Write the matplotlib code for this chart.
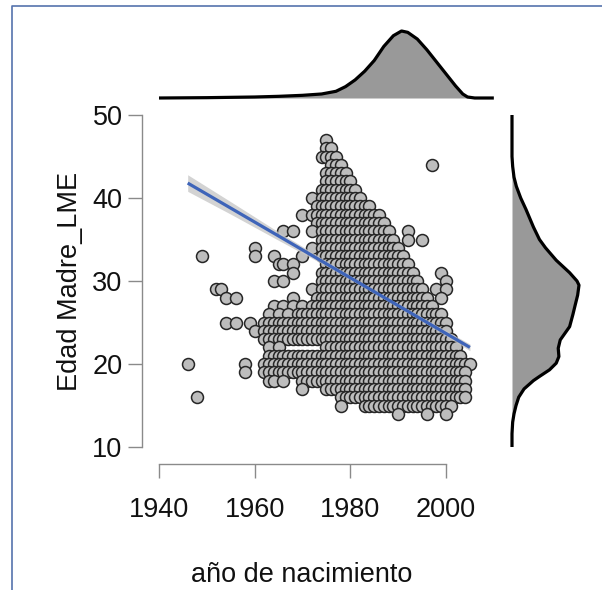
import matplotlib
matplotlib.use('Agg')
import matplotlib.pyplot as plt
from matplotlib.lines import Line2D

plt.rcParams['font.family'] = ['Liberation Sans', 'DejaVu Sans']

# ---------------- data ----------------
ages = [47, 46, 45, 44, 43, 42, 41, 40, 39, 38, 37, 36, 35, 34, 33, 32, 31, 30,
        29, 28, 27, 26, 25, 24, 23, 22, 21, 20, 19, 18, 17, 16, 15, 14]

yrs_47 = [1975]
yrs_46 = [1975, 1976]
yrs_45 = [1974, 1975, 1976, 1977]
yrs_44 = [1976, 1977, 1978, 1997]
yrs_43 = [1975, 1976, 1977, 1978, 1979]
yrs_42 = [1975, 1976, 1977, 1978, 1979, 1980]
yrs_41 = [1974, 1975, 1976, 1977, 1978, 1979, 1980, 1981]
yrs_40 = [1972, 1974, 1975, 1976, 1977, 1978, 1979, 1980, 1981, 1982]
yrs_39 = [1973, 1974, 1975, 1976, 1977, 1978, 1979, 1980, 1981, 1982, 1983, 1984]
yrs_38 = [1970, 1972, 1973, 1974, 1975, 1976, 1977, 1978, 1979, 1980, 1981, 1982,
          1983, 1984, 1985, 1986]
yrs_37 = [1973, 1974, 1975, 1976, 1977, 1978, 1979, 1980, 1981, 1982, 1983, 1984,
          1985, 1986, 1987]
yrs_36 = [1966, 1968, 1972, 1974, 1975, 1976, 1977, 1978, 1979, 1980, 1981, 1982,
          1983, 1984, 1985, 1986, 1987, 1988, 1992]
yrs_35 = [1974, 1975, 1976, 1977, 1978, 1979, 1980, 1981, 1982, 1983, 1984, 1985,
          1986, 1987, 1988, 1989, 1992, 1995]
yrs_34 = [1960, 1972, 1974, 1975, 1976, 1977, 1978, 1979, 1980, 1981, 1982, 1983,
          1984, 1985, 1986, 1987, 1988, 1989, 1990]
yrs_33 = [1949, 1960, 1964, 1970, 1974, 1975, 1976, 1977, 1978, 1979, 1980, 1981,
          1982, 1983, 1984, 1985, 1986, 1987, 1988, 1989, 1990, 1991]
yrs_32 = [1965, 1966, 1968, 1975, 1976, 1977, 1978, 1979, 1980, 1981, 1982, 1983,
          1984, 1985, 1986, 1987, 1988, 1989, 1990, 1991, 1992]
yrs_31 = [1968, 1974, 1975, 1976, 1977, 1978, 1979, 1980, 1981, 1982, 1983, 1984,
          1985, 1986, 1987, 1988, 1989, 1990, 1991, 1992, 1993, 1999]
yrs_30 = [1964, 1966, 1974, 1975, 1976, 1977, 1978, 1979, 1980, 1981, 1982, 1983,
          1984, 1985, 1986, 1987, 1988, 1989, 1990, 1991, 1992, 1993, 1994, 2000]
yrs_29 = [1952, 1953, 1972, 1974, 1975, 1976, 1977, 1978, 1979, 1980, 1981, 1982,
          1983, 1984, 1985, 1986, 1987, 1988, 1989, 1990, 1991, 1992, 1993, 1994,
          1995, 1998, 2000]
yrs_28 = [1954, 1956, 1968, 1973, 1974, 1975, 1976, 1977, 1978, 1979, 1980, 1981,
          1982, 1983, 1984, 1985, 1986, 1987, 1988, 1989, 1990, 1991, 1992, 1993,
          1994, 1995, 1996, 1999]
yrs_27 = [1964, 1966, 1968, 1970, 1972, 1973, 1974, 1975, 1976, 1977, 1978, 1979,
          1980, 1981, 1982, 1983, 1984, 1985, 1986, 1987, 1988, 1989, 1990, 1991,
          1992, 1993, 1994, 1995, 1996, 1997]
yrs_26 = [1963, 1965, 1967, 1969, 1970, 1971, 1972, 1973, 1974, 1975, 1976, 1977,
          1978, 1979, 1980, 1981, 1982, 1983, 1984, 1985, 1986, 1987, 1988, 1989,
          1990, 1991, 1992, 1993, 1994, 1995, 1996, 1997, 1998, 1999]
yrs_25 = [1954, 1956, 1959, 1962, 1963, 1964, 1965, 1966, 1967, 1968, 1969, 1970,
          1971, 1972, 1973, 1974, 1975, 1976, 1977, 1978, 1979, 1980, 1981, 1982,
          1983, 1984, 1985, 1986, 1987, 1988, 1989, 1990, 1991, 1992, 1993, 1994,
          1995, 1996, 1997, 1998, 1999, 2000]
yrs_24 = [1960, 1962, 1963, 1964, 1965, 1966, 1967, 1968, 1969, 1970, 1971, 1972,
          1973, 1974, 1975, 1976, 1977, 1978, 1979, 1980, 1981, 1982, 1983, 1984,
          1985, 1986, 1987, 1988, 1989, 1990, 1991, 1992, 1993, 1994, 1995, 1996,
          1997, 1998, 1999, 2000]
yrs_23 = [1962, 1963, 1964, 1965, 1966, 1967, 1968, 1969, 1970, 1971, 1972, 1973,
          1974, 1975, 1976, 1977, 1978, 1979, 1980, 1981, 1982, 1983, 1984, 1985,
          1986, 1987, 1988, 1989, 1990, 1991, 1992, 1993, 1994, 1995, 1996, 1997,
          1998, 1999, 2000, 2001]
yrs_22 = [1963, 1965, 1975, 1976, 1977, 1978, 1979, 1980, 1981, 1982, 1983, 1984,
          1985, 1986, 1987, 1988, 1989, 1990, 1991, 1992, 1993, 1994, 1995, 1996,
          1997, 1998, 1999, 2000, 2001, 2002]
yrs_21 = [1963, 1964, 1965, 1966, 1967, 1968, 1969, 1970, 1971, 1972, 1973, 1974,
          1975, 1976, 1977, 1978, 1979, 1980, 1981, 1982, 1983, 1984, 1985, 1986,
          1987, 1988, 1989, 1990, 1991, 1992, 1993, 1994, 1995, 1996, 1997, 1998,
          1999, 2000, 2001, 2002, 2003]
yrs_20 = [1946, 1958, 1962, 1963, 1964, 1965, 1966, 1967, 1968, 1969, 1970, 1971,
          1972, 1973, 1974, 1975, 1976, 1977, 1978, 1979, 1980, 1981, 1982, 1983,
          1984, 1985, 1986, 1987, 1988, 1989, 1990, 1991, 1992, 1993, 1994, 1995,
          1996, 1997, 1998, 1999, 2000, 2001, 2002, 2003, 2004, 2005]
yrs_19 = [1958, 1962, 1963, 1964, 1965, 1966, 1967, 1968, 1969, 1970, 1971, 1972,
          1973, 1974, 1975, 1976, 1977, 1978, 1979, 1980, 1981, 1982, 1983, 1984,
          1985, 1986, 1987, 1988, 1989, 1990, 1991, 1992, 1993, 1994, 1995, 1996,
          1997, 1998, 1999, 2000, 2001, 2002, 2003, 2004]
yrs_18 = [1963, 1964, 1966, 1970, 1971, 1972, 1973, 1974, 1975, 1976, 1977, 1978,
          1979, 1980, 1981, 1982, 1983, 1984, 1985, 1986, 1987, 1988, 1989, 1990,
          1991, 1992, 1993, 1994, 1995, 1996, 1997, 1998, 1999, 2000, 2001, 2002,
          2003, 2004]
yrs_17 = [1970, 1975, 1976, 1977, 1978, 1979, 1980, 1981, 1982, 1983, 1984, 1985,
          1986, 1987, 1988, 1989, 1990, 1991, 1992, 1993, 1994, 1995, 1996, 1997,
          1998, 1999, 2000, 2001, 2002, 2003, 2004]
yrs_16 = [1948, 1978, 1979, 1980, 1981, 1982, 1983, 1984, 1985, 1986, 1987, 1988,
          1989, 1990, 1991, 1992, 1993, 1994, 1995, 1996, 1997, 1998, 1999, 2000,
          2001, 2002, 2003, 2004]
yrs_15 = [1978, 1983, 1984, 1985, 1986, 1987, 1988, 1989, 1990, 1991, 1992, 1993,
          1994, 1995, 1996, 1997, 1998, 1999, 2000, 2001]
yrs_14 = [1990, 1996, 2000]

year_rows = [yrs_47, yrs_46, yrs_45, yrs_44, yrs_43, yrs_42, yrs_41, yrs_40, yrs_39,
             yrs_38, yrs_37, yrs_36, yrs_35, yrs_34, yrs_33, yrs_32, yrs_31, yrs_30,
             yrs_29, yrs_28, yrs_27, yrs_26, yrs_25, yrs_24, yrs_23, yrs_22, yrs_21,
             yrs_20, yrs_19, yrs_18, yrs_17, yrs_16, yrs_15, yrs_14]

# regression line and its confidence band
fit_years = [1946, 2005]
fit_ages = [41.8, 22.0]
ci_years = [1946, 1955, 1965, 1975, 1985, 1995, 2005]
ci_center = [41.8, 38.8, 35.4, 32.1, 28.7, 25.4, 22.0]
ci_half = [1.0, 0.75, 0.5, 0.3, 0.2, 0.25, 0.4]

# marginal density of birth year (relative height)
dens_year_x = [1940, 1950, 1960, 1965, 1970, 1974, 1977, 1979, 1981, 1983, 1985,
               1987, 1989, 1990.7, 1992, 1994, 1996, 1998, 2000, 2002, 2003.5,
               2004.5, 2006, 2010]
dens_year_h = [0.0, 0.005, 0.015, 0.025, 0.04, 0.06, 0.1, 0.17, 0.27, 0.4, 0.56,
               0.77, 0.93, 1.0, 0.98, 0.88, 0.72, 0.54, 0.36, 0.18, 0.06, 0.015,
               0.0, 0.0]

# marginal density of mother's age (relative height)
dens_age_y = [10, 11.6, 13, 14, 15, 16, 17, 18, 18.5, 19.3, 20.1, 20.9, 21.9, 22.9,
              23.7, 24.5, 26, 27, 28.3, 29.5, 30, 31, 32.5, 34, 35, 36.5, 38.6, 40,
              41.4, 42.5, 43.8, 45, 50]
dens_age_h = [0.0, 0.0, 0.01, 0.03, 0.06, 0.1, 0.18, 0.32, 0.41, 0.56, 0.66, 0.70,
              0.69, 0.72, 0.79, 0.86, 0.91, 0.94, 0.98, 1.0, 0.97, 0.86, 0.66, 0.5,
              0.41, 0.32, 0.21, 0.13, 0.065, 0.03, 0.01, 0.0, 0.0]

x_ticks = [1940, 1960, 1980, 2000]
y_ticks = [10, 20, 30, 40, 50]

# ---------------- figure ----------------
W, H = 602, 590
fig = plt.figure(figsize=(W / 100, H / 100), dpi=100)


def px_axes(x0, y0, x1, y1):
    return fig.add_axes([x0 / W, 1 - y1 / H, (x1 - x0) / W, (y1 - y0) / H])


PX_PER_YEAR = (446 - 159) / 60.0
PX_PER_AGE = (447 - 115) / 40.0


def year_at(px):
    return 1940 + (px - 159) / PX_PER_YEAR


def age_at(py):
    return 50 - (py - 115) / PX_PER_AGE


SX0, SX1, SY0, SY1 = 142, 500, 108, 464
ax = px_axes(SX0, SY0, SX1, SY1)
ax.set_xlim(year_at(SX0), year_at(SX1))
ax.set_ylim(age_at(SY1), age_at(SY0))

xs, ys = [], []
for a, row in zip(ages, year_rows):
    xs.extend(row)
    ys.extend([a] * len(row))

ax.scatter(xs, ys, s=74, c='#bdbdbd', edgecolors='#262626', linewidths=1.1,
           zorder=2)

lo = [c - h for c, h in zip(ci_center, ci_half)]
hi = [c + h for c, h in zip(ci_center, ci_half)]
ax.fill_between(ci_years, lo, hi, color='#c8c8c8', alpha=0.8, lw=0, zorder=3)
ax.plot(fit_years, fit_ages, color='#3E64B9', lw=2.3, solid_capstyle='butt',
        zorder=4)

for s in ['top', 'right']:
    ax.spines[s].set_visible(False)
spine_col = '#8a8a8a'
ax.spines['left'].set_bounds(10, 50)
ax.spines['bottom'].set_bounds(1940, 2000)
for s in ['left', 'bottom']:
    ax.spines[s].set_color(spine_col)
    ax.spines[s].set_linewidth(1.0)
ax.set_xticks(x_ticks)
ax.set_yticks(y_ticks)
ax.tick_params(axis='both', colors=spine_col, length=10, width=1.0,
               labelsize=19.5, labelcolor='#111111')
ax.tick_params(axis='x', pad=14)
ax.tick_params(axis='y', pad=4)

fig.text(70 / W, 1 - 281 / H, 'Edad Madre_LME', rotation=90, ha='center',
         va='center', fontsize=19.5, color='#111111')
fig.text(302 / W, 1 - 575 / H, 'año de nacimiento', ha='center', va='center',
         fontsize=19.5, color='#111111')

# top marginal density
axt = px_axes(SX0, 31, SX1, 98)
axt.set_xlim(year_at(SX0), year_at(SX1))
axt.set_ylim(0, 1)
axt.fill_between(dens_year_x, 0, dens_year_h, color='#999999', lw=0,
                 clip_on=False)
axt.plot(dens_year_x, dens_year_h, color='black', lw=2.3, clip_on=False,
         solid_joinstyle='round', solid_capstyle='butt')
axt.axis('off')

# right marginal density
axr = px_axes(512, SY0, 579, SY1)
axr.set_xlim(0, 1)
axr.set_ylim(age_at(SY1), age_at(SY0))
axr.fill_betweenx(dens_age_y, 0, dens_age_h, color='#999999', lw=0,
                  clip_on=False)
axr.plot(dens_age_h, dens_age_y, color='black', lw=2.3, clip_on=False,
         solid_joinstyle='round', solid_capstyle='butt')
axr.axis('off')

# frame of the screenshot
fig.add_artist(Line2D([12 / W, 12 / W, 1.0], [0.0, 1 - 6 / H, 1 - 6 / H],
                      transform=fig.transFigure, color='#5573AD', lw=1.2))

fig.savefig('out.png', dpi=100)
